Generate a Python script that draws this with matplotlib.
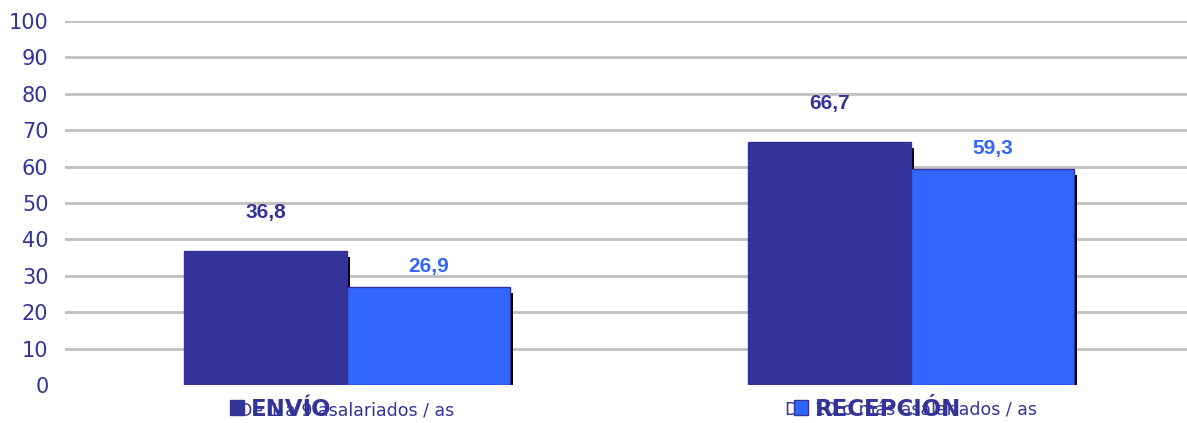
import matplotlib.pyplot as plt
from matplotlib.patches import Patch
import numpy as np

categorias = ["De 1 a 9 asalariados / as", "De 10 o más asalariados / as"]
series = ["ENVÍO", "RECEPCIÓN"]
envio = [36.8, 66.7]
recepcion = [26.9, 59.3]
colores = ["#333399", "#3366FF"]

fig = plt.figure(figsize=(11.87, 4.23), dpi=100)
ax = fig.add_axes([0.0548, 0.0898, 0.9452, 0.8605])

x = np.arange(len(categorias))
w = 0.289
offs = [-w / 2, w / 2]
# sombra negra detras de las barras
for vals, o in zip([envio, recepcion], offs):
    ax.bar(x + o + 0.005, np.array(vals) - 1.5, w, color="black", zorder=2)
for vals, o, c in zip([envio, recepcion], offs, colores):
    ax.bar(x + o, vals, w, color=c, edgecolor="#333399", linewidth=1, zorder=3)

# etiquetas de valor
for i in range(len(categorias)):
    ax.annotate(f"{envio[i]:.1f}".replace(".", ","), (x[i] + offs[0], envio[i]),
                xytext=(0, 21), textcoords="offset points", ha="center", va="bottom",
                fontsize=15, fontweight="bold", color=colores[0], family="Liberation Sans")
    ax.annotate(f"{recepcion[i]:.1f}".replace(".", ","), (x[i] + offs[1], recepcion[i]),
                xytext=(0, 8), textcoords="offset points", ha="center", va="bottom",
                fontsize=15, fontweight="bold", color=colores[1], family="Liberation Sans")

ax.set_xlim(-0.5, 1.489)
ax.set_ylim(0, 100)
ax.set_yticks(range(0, 101, 10))
ax.set_xticks(x)
ax.set_xticklabels(categorias, fontsize=12.5, color="#333399")
ax.tick_params(axis="y", labelsize=15, labelcolor="#333399", length=0, pad=12)
ax.tick_params(axis="x", length=0, pad=12)
for s in ax.spines.values():
    s.set_visible(False)
ax.set_axisbelow(True)
for v in range(10, 101, 10):
    ax.axhline(v, color="#c0c0c0", linewidth=2, zorder=0)

handles = [Patch(facecolor=c, edgecolor="#333399") for c in colores]
fig.legend(handles, series, loc="center", bbox_to_anchor=(0.502, 0.033), ncol=2,
           frameon=False, columnspacing=20.2, handlelength=0.6, handleheight=0.6,
           handletextpad=0.3, prop={"weight": "bold", "size": 16.5}, labelcolor="#333399")

fig.savefig("out.png", dpi=100)
